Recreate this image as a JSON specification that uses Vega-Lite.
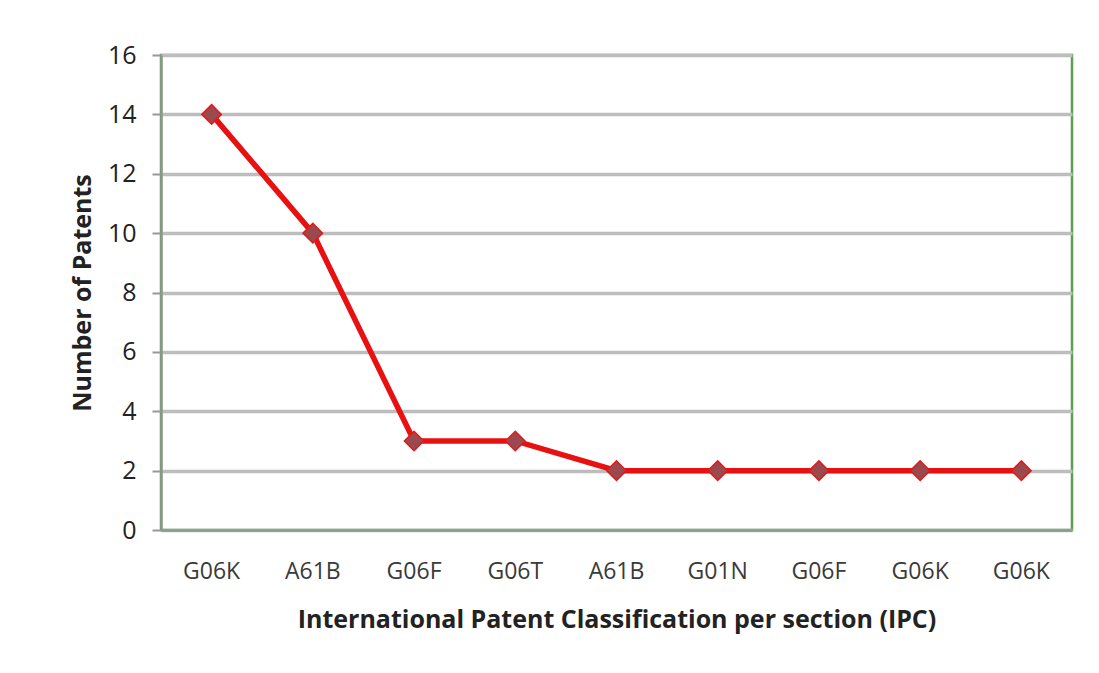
{
  "$schema": "https://vega.github.io/schema/vega-lite/v6.json",
  "width": 911,
  "height": 475,
  "autosize": {"type": "none"},
  "padding": {"left": 161, "top": 55, "right": 27, "bottom": 143},
  "background": "white",
  "config": {
    "view": {"stroke": "#5a9e4e", "strokeWidth": 2.5},
    "font": "Open Sans"
  },
  "data": {
    "values": [
      {"idx": 1, "ipc": "G06K", "patents": 14},
      {"idx": 2, "ipc": "A61B", "patents": 10},
      {"idx": 3, "ipc": "G06F", "patents": 3},
      {"idx": 4, "ipc": "G06T", "patents": 3},
      {"idx": 5, "ipc": "A61B", "patents": 2},
      {"idx": 6, "ipc": "G01N", "patents": 2},
      {"idx": 7, "ipc": "G06F", "patents": 2},
      {"idx": 8, "ipc": "G06K", "patents": 2},
      {"idx": 9, "ipc": "G06K", "patents": 2}
    ]
  },
  "encoding": {
    "x": {
      "field": "idx",
      "type": "ordinal",
      "scale": {"type": "band", "paddingInner": 0, "paddingOuter": 0},
      "axis": {
        "title": "International Patent Classification per section (IPC)",
        "labelExpr": "['','G06K','A61B','G06F','G06T','A61B','G01N','G06F','G06K','G06K'][datum.value]",
        "labelAngle": 0,
        "labelFontSize": 23,
        "labelColor": "#3a3a3a",
        "labelPadding": 30,
        "ticks": false,
        "domainColor": "#8a9a8a",
        "domainWidth": 2.5,
        "titleFontSize": 25,
        "titleFontWeight": "bold",
        "titleColor": "#222222",
        "titlePadding": 24,
        "grid": false
      }
    },
    "y": {
      "field": "patents",
      "type": "quantitative",
      "scale": {"domain": [0, 16]},
      "axis": {
        "title": "Number of Patents",
        "values": [0, 2, 4, 6, 8, 10, 12, 14, 16],
        "labelFontSize": 25,
        "labelColor": "#222222",
        "labelPadding": 16,
        "tickSize": 9,
        "tickColor": "#999999",
        "tickWidth": 2,
        "domainColor": "#8a9a8a",
        "domainWidth": 2.5,
        "gridColor": "#bdbdbd",
        "gridWidth": 3.5,
        "titleFontSize": 25,
        "titleFontWeight": "bold",
        "titleColor": "#222222",
        "titlePadding": 12
      }
    }
  },
  "layer": [
    {
      "mark": {"type": "line", "color": "#e81010", "strokeWidth": 5.5}
    },
    {
      "mark": {
        "type": "point",
        "shape": "diamond",
        "filled": true,
        "size": 380,
        "color": "#9a4a4e",
        "stroke": "#e01a1a",
        "strokeWidth": 1.5,
        "opacity": 1
      }
    }
  ]
}
